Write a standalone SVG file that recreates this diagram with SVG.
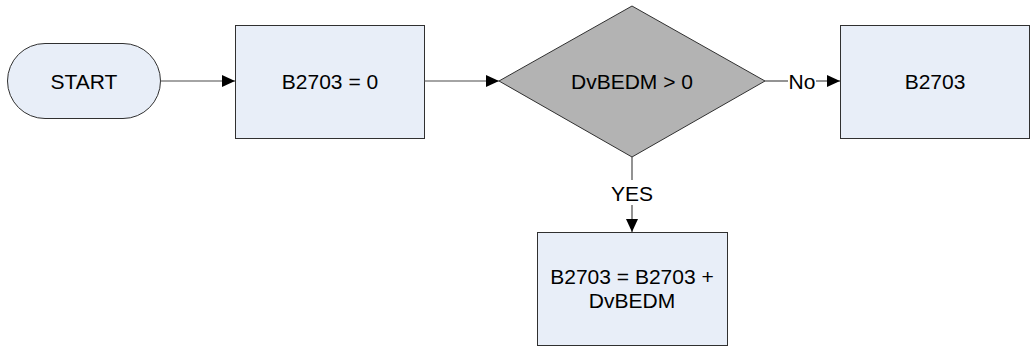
<svg xmlns="http://www.w3.org/2000/svg" width="1033" height="351" viewBox="0 0 1033 351">
<style>
.box{fill:#E8EEF8;stroke:#303030;stroke-width:1}
.dec{fill:#B3B3B3;stroke:#303030;stroke-width:1}
.t{font-family:"Liberation Sans",Arial,sans-serif;font-size:21px;fill:#000;text-anchor:middle}
.c{stroke:#4a4a4a;stroke-width:1.2;fill:none}
</style>
<defs>
<marker id="ah" markerWidth="13" markerHeight="12" refX="13" refY="6" orient="auto" markerUnits="userSpaceOnUse">
<path d="M0,0 L13,6 L0,12 Z" fill="#000"/>
</marker>
</defs>
<g id="start">
<rect x="7.5" y="43.5" width="153" height="75" rx="37.5" ry="37.5" class="box"/>
<text x="84" y="88.5" class="t">START</text>
</g>
<g id="init">
<rect x="235.5" y="25.5" width="189" height="113" class="box"/>
<text x="330" y="88.5" class="t">B2703 = 0</text>
</g>
<g id="decision">
<path d="M632,6 L765,81 L632,157 L499,81 Z" class="dec"/>
<text x="632" y="88.5" class="t">DvBEDM &gt; 0</text>
</g>
<g id="no-box">
<rect x="840.5" y="25.5" width="189" height="113" class="box"/>
<text x="935" y="88.5" class="t">B2703</text>
</g>
<g id="yes-box">
<rect x="537.5" y="232.5" width="190" height="113" class="box"/>
<text x="632" y="283.5" class="t">B2703 = B2703 +</text>
<text x="632" y="307.5" class="t">DvBEDM</text>
</g>
<g id="connectors">
<path d="M160,81 H235" class="c" marker-end="url(#ah)"/>
<path d="M424,81 H499" class="c" marker-end="url(#ah)"/>
<path d="M765,81 H788" class="c"/>
<path d="M816,81 H840" class="c" marker-end="url(#ah)"/>
<text x="802" y="88.5" class="t">No</text>
<path d="M632,157 V180" class="c"/>
<path d="M632,205 V232" class="c" marker-end="url(#ah)"/>
<text x="632" y="201" class="t">YES</text>
</g>
</svg>
